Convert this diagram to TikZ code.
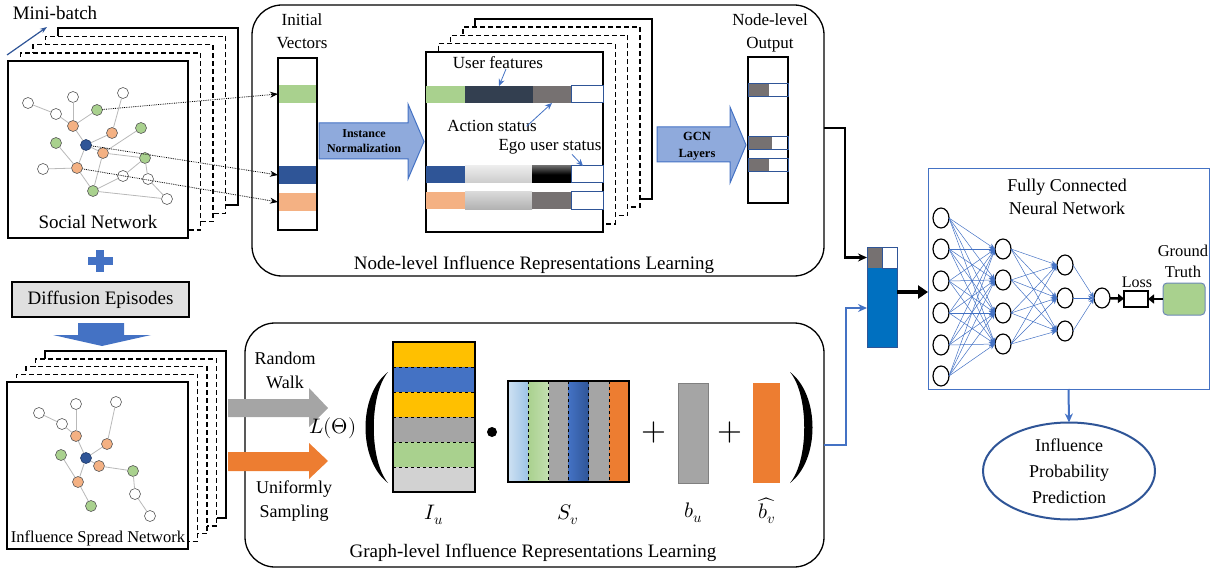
\documentclass[tikz,border=0pt]{standalone}
\usepackage{fontspec}
\setmainfont{Liberation Serif}
\usepackage{unicode-math}
\setmathfont{Latin Modern Math}
\usepackage{tikz}
\usetikzlibrary{positioning}
\usetikzlibrary{shapes,arrows,arrows.meta,calc}
\usepackage{color}

\definecolor{cgreen}{HTML}{A9D18E}
\definecolor{corange}{HTML}{F4B183}
\definecolor{cnavy}{HTML}{2F5597}
\definecolor{cblue}{HTML}{4472C4}
\definecolor{clblue}{HTML}{8FAADC}
\definecolor{cdark}{HTML}{333F50}
\definecolor{cgray}{HTML}{767171}
\definecolor{cdorange}{HTML}{ED7D31}
\definecolor{cyellow}{HTML}{FFC000}
\definecolor{cmid}{HTML}{A5A5A5}
\definecolor{cvec}{HTML}{0070C0}
\definecolor{cskyblue}{HTML}{9DC3E6}

\tikzset{
    %Define standard arrow tip
    >=stealth',
    % Define arrow styles
    dotarr/.style={-{Stealth[length=8pt,width=6pt]}, densely dotted, line width=0.8pt},
    bluearr/.style={-{Stealth[length=7pt,width=6pt]}, cblue, line width=0.8pt},
    blkcon/.style={-{Stealth[length=9pt,width=8pt]}, line width=2.2pt},
    bluecon/.style={-{Stealth[length=9pt,width=8pt]}, cblue, line width=2pt},
    fatarr/.style={-{Triangle[length=10pt,width=13pt]}, line width=3.5pt},
    smallfat/.style={-{Triangle[length=6pt,width=9pt]}, line width=2.5pt},
}
\newcommand{\fbig}{\fontsize{19}{23}\selectfont}
\newcommand{\fmid}{\fontsize{17}{23}\selectfont}
\newcommand{\fmath}{\fontsize{21}{25}\selectfont}

\begin{document}
\begin{tikzpicture}[x=1pt, y=-1pt, outer sep=0pt, inner sep=0pt]
\tikzstyle{sheet}=[draw, rectangle, fill=white, line width=1.5pt, anchor=north west]
\tikzstyle{sheetd}=[sheet, dash pattern=on 5pt off 3pt]
\tikzstyle{vw}=[draw=gray!70!black, circle, fill=white, minimum size=11pt, line width=0.6pt]
\tikzstyle{vg}=[vw, fill=cgreen]
\tikzstyle{vo}=[vw, fill=corange]
\tikzstyle{vb}=[vw, fill=cnavy, draw=cnavy!70!black]
\tikzstyle{ed}=[draw=gray!55, line width=0.8pt]
\tikzstyle{cell}=[rectangle, anchor=north west]
\tikzstyle{wcell}=[cell, draw=cnavy, fill=white, line width=1pt]
\tikzstyle{lbl}=[font=\fmid, align=center]
\tikzstyle{neuron}=[draw, ellipse, fill=white, line width=1.2pt, minimum width=16pt, minimum height=20pt]
\tikzstyle{nnline}=[-{Stealth[length=6pt,width=5pt]}, cblue, line width=0.5pt]
\tikzstyle{bigarr}=[fill=clblue, draw=cblue, line width=1pt]

\useasboundingbox (0,0) rectangle (1212,572);

% social network stack
\node[sheet, minimum width=180pt, minimum height=177pt] (sn4) at (58,28.2) {};
\node[sheetd, minimum width=180pt, minimum height=177pt] (sn3) at (45.5,36.4) {};
\node[sheetd, minimum width=180pt, minimum height=177pt] (sn2) at (33,44.6) {};
\node[sheetd, minimum width=180pt, minimum height=177pt] (sn1) at (20.5,52.8) {};
\node[sheet, minimum width=180pt, minimum height=177pt] (sn0) at (8,61) {};
\node[font=\fbig] (snlbl) at (98,222) {Social Network};

\coordinate (mb0) at (7,55);
\coordinate (mb1) at (47,27);
\draw[-{Stealth[length=7pt,width=5pt]}, cnavy, line width=1.2pt] (mb0) -- (mb1);
\node[font=\fbig] (mblbl) at (55,13) {Mini-batch};

\node[vw] (s1) at (28,103) {};
\node[vw] (s2) at (73,97) {};
\node[vw] (s3) at (123,93) {};
\node[vw] (s4) at (56,114) {};
\node[vg] (s5) at (97,110) {};
\node[vo] (s6) at (73,126) {};
\node[vo] (s7) at (112,133) {};
\node[vg] (s8) at (141,128) {};
\node[vg] (s9) at (56,143) {};
\node[vb] (s10) at (86,145) {};
\node[vo] (s11) at (103,153) {};
\node[vg] (s12) at (145,158) {};
\node[vw] (s13) at (43,169) {};
\node[vo] (s14) at (77,168) {};
\node[vw] (s15) at (123,176) {};
\node[vw] (s16) at (148,179) {};
\node[vg] (s17) at (93,191) {};
\node[vw] (s18) at (167,199) {};

\foreach \a/\b in {s1/s4, s4/s6, s2/s6, s6/s5, s3/s7, s6/s10, s10/s7, s10/s11,
                   s11/s8, s11/s12, s12/s16, s16/s18, s10/s14, s9/s14, s13/s14,
                   s14/s17, s11/s17, s17/s15, s15/s12, s17/s18}
  \draw[ed] (\a) -- (\b);

% node-level box
\node[draw, rounded corners=30pt, line width=1.3pt, anchor=north west, minimum width=572pt, minimum height=271pt] (nodebox) at (252,5) {};
\node[font=\fbig] (nodettl) at (534,265) {Node-level Influence Representations Learning};

\node[lbl] (ivlbl) at (302,31) {Initial\\Vectors};
\node[cell, fill=cgreen, minimum width=39pt, minimum height=18pt] (ivg) at (278,85) {};
\node[cell, fill=cnavy, minimum width=39pt, minimum height=18pt] (ivb) at (278,166) {};
\node[cell, fill=corange, minimum width=39pt, minimum height=18pt] (ivo) at (278,193) {};
\node[cell, draw, line width=1.5pt, minimum width=39pt, minimum height=172pt] (iv) at (278,58) {};

\draw[dotarr] (s5) -- (ivg.west);
\draw[dotarr] (s10) -- (ivb.west);
\draw[dotarr] (s14) -- (ivo.west);

\draw[bigarr] (319,123) -- (408,123) -- (408,104) -- (424,141.5) -- (408,179) -- (408,159) -- (319,159) -- cycle;
\node[font=\bfseries\fontsize{12}{15}\selectfont, align=center] (inlbl) at (364,141.5) {Instance\\Normalization};

% feature stack
\node[sheet, minimum width=177pt, minimum height=180pt] (ft4) at (475,19) {};
\node[sheetd, minimum width=177pt, minimum height=180pt] (ft3) at (462.75,27.25) {};
\node[sheetd, minimum width=177pt, minimum height=180pt] (ft2) at (450.5,35.5) {};
\node[sheetd, minimum width=177pt, minimum height=180pt] (ft1) at (438.25,43.75) {};
\node[sheet, minimum width=177pt, minimum height=180pt] (ft0) at (426,52) {};

\node[cell, fill=cgreen, minimum width=39pt, minimum height=17pt] (f1a) at (426,86) {};
\node[cell, fill=cdark, minimum width=68pt, minimum height=17pt] (f1b) at (465,86) {};
\node[cell, fill=cgray, minimum width=38pt, minimum height=17pt] (f1c) at (533,86) {};
\node[wcell, minimum width=32pt, minimum height=17pt] (f1d) at (571,86) {};

\node[cell, fill=cnavy, minimum width=39pt, minimum height=17pt] (f2a) at (426,166) {};
\node[cell, top color=gray!15, bottom color=gray!40, minimum width=67pt, minimum height=17pt] (f2b) at (465,166) {};
\node[cell, top color=black!60, bottom color=black, middle color=black, minimum width=39pt, minimum height=17pt] (f2c) at (532,166) {};
\node[wcell, minimum width=32pt, minimum height=17pt] (f2d) at (571,166) {};

\node[cell, fill=corange, minimum width=39pt, minimum height=17pt] (f3a) at (426,192) {};
\node[cell, top color=gray!30, bottom color=gray!60, minimum width=67pt, minimum height=17pt] (f3b) at (465,192) {};
\node[cell, fill=cgray, minimum width=39pt, minimum height=17pt] (f3c) at (532,192) {};
\node[wcell, minimum width=32pt, minimum height=17pt] (f3d) at (571,192) {};

\node[lbl] (ufeat) at (498,63) {User features};
\node[lbl] (astat) at (492,126) {Action status};
\node[lbl] (estat) at (550,147) {Ego user status};
\draw[bluearr] ([xshift=8pt]ufeat.south) -- (f1b.north);
\draw[bluearr] ([xshift=-10pt,yshift=-6pt]astat.north east) -- (f1c.south);
\draw[bluearr] ([xshift=22pt]estat.south) -- ([xshift=-4pt]f2d.north);

\draw[bigarr] (657,127) -- (730,127) -- (730,107) -- (746,145) -- (730,183) -- (730,162) -- (657,162) -- cycle;
\node[font=\bfseries\fontsize{12.5}{17}\selectfont, align=center] (gcnlbl) at (697,146) {GCN\\Layers};

% node-level output
\node[lbl] (outlbl) at (770,33) {Node-level\\Output};
\node[cell, draw, line width=1.5pt, minimum width=40pt, minimum height=146pt] (nlo) at (748,57) {};
\node[cell, fill=cgray, minimum width=21pt, minimum height=13pt] (nlo1g) at (748,84) {};
\node[cell, draw=cnavy, line width=1pt, minimum width=40pt, minimum height=13pt] (nlo1) at (748,84) {};
\node[cell, fill=cgray, minimum width=24pt, minimum height=13pt] (nlo2g) at (748,137) {};
\node[cell, draw=cnavy, line width=1pt, minimum width=40pt, minimum height=13pt] (nlo2) at (748,137) {};
\node[cell, fill=cgray, minimum width=21pt, minimum height=13pt] (nlo3g) at (748,159) {};
\node[cell, draw=cnavy, line width=1pt, minimum width=40pt, minimum height=13pt] (nlo3) at (748,159) {};

% combined vector
\node[cell, fill=cvec, draw=cnavy, line width=1pt, minimum width=30pt, minimum height=100pt] (cvec) at (867,247) {};
\node[cell, fill=cgray, minimum width=15pt, minimum height=21pt] (cvg) at (867,247) {};
\node[cell, fill=white, draw=cnavy, line width=1pt, minimum width=15pt, minimum height=21pt] (cvw) at (882,247) {};
\node[cell, draw=cnavy, line width=1pt, minimum width=30pt, minimum height=100pt] (cvo) at (867,247) {};

\draw[blkcon] ([yshift=12.5pt]nodebox.east) -- ++(21,0) |- (cvg.west);

% fully connected network
\node[cell, draw=cblue, line width=1pt, minimum width=281pt, minimum height=220pt] (fcbox) at (928,169) {};
\node[font=\fontsize{18}{23}\selectfont, align=center] (fcttl) at (1067,196.5) {Fully Connected\\Neural Network};

\coordinate (cvout) at ([yshift=5pt]cvec.east);
\draw[fatarr] (cvout) -- (cvout -| fcbox.west);

\foreach \y [count=\i] in {218,249,281,313,345,376}
  \node[neuron] (a\i) at (941,\y) {};
\foreach \y [count=\i] in {249,280,313,344}
  \node[neuron] (b\i) at (1003,\y) {};
\foreach \y [count=\i] in {265,298,331}
  \node[neuron] (c\i) at (1065,\y) {};
\node[neuron] (out) at (1102,298) {};

\foreach \i in {1,...,6}
  \foreach \j in {1,...,4}
    \draw[nnline] (a\i.east) -- (b\j.west);
\foreach \i in {1,...,4}
  \foreach \j in {1,...,3}
    \draw[nnline] (b\i.east) -- (c\j.west);
\foreach \i in {1,...,3}
  \draw[nnline] (c\i.east) -- (out.west);

\node[cell, draw, line width=2pt, minimum width=24pt, minimum height=16pt] (loss) at (1124,291) {};
\node[font=\fontsize{16}{18}\selectfont] (losslbl) at (1137,282) {Loss};
\node[cell, rounded corners=4pt, draw=cnavy!70, fill=cgreen, line width=1pt, minimum width=42pt, minimum height=32pt] (gt) at (1163,283) {};
\node[font=\fontsize{16.5}{21}\selectfont, align=center] (gtlbl) at (1183,261) {Ground\\Truth};
\draw[smallfat] (out) -- (loss);
\draw[smallfat] (gt) -- (loss);

\node[draw=cnavy, ellipse, line width=2pt, minimum width=172pt, minimum height=97pt, align=center, font=\fontsize{18}{26}\selectfont] (pred) at (1069,471) {Influence\\Probability\\Prediction};
\draw[bluecon] (fcbox.south) -- (pred.north);

% diffusion episodes
\fill[cblue] (88,257) rectangle (113,265);
\fill[cblue] (96,250) rectangle (104,272);
\node[draw, fill=gray!25, line width=1.3pt, minimum width=177pt, minimum height=35pt, font=\fbig] (diff) at (100.5,299.5) {Diffusion Episodes};
\fill[cblue] (78,323) -- (124,323) -- (124,335) -- (151,335) -- (102,346) -- (53,335) -- (78,335) -- cycle;

% influence spread stack
\node[sheet, minimum width=181pt, minimum height=167pt] (is4) at (45,351) {};
\node[sheetd, minimum width=181pt, minimum height=167pt] (is3) at (35.5,358.75) {};
\node[sheetd, minimum width=181pt, minimum height=167pt] (is2) at (26,366.5) {};
\node[sheetd, minimum width=181pt, minimum height=167pt] (is1) at (16.5,374.25) {};
\node[sheet, minimum width=181pt, minimum height=167pt] (is0) at (7,382) {};
\node[font=\fontsize{16.5}{20}\selectfont] (islbl) at (98,538) {Influence Spread Network};

\node[vw] (p1) at (39,413) {};
\node[vw] (p2) at (76,404) {};
\node[vw] (p3) at (116,402) {};
\node[vw] (p4) at (62,424) {};
\node[vo] (p5) at (76,436) {};
\node[vo] (p6) at (107,444) {};
\node[vg] (p7) at (61,455) {};
\node[vb] (p8) at (86,458) {};
\node[vo] (p9) at (99,466) {};
\node[vg] (p10) at (133,471) {};
\node[vo] (p11) at (78,482) {};
\node[vw] (p12) at (135,494) {};
\node[vg] (p13) at (91,506) {};
\node[vw] (p14) at (150,516) {};

\foreach \a/\b in {p1/p4, p4/p5, p2/p5, p5/p8, p3/p6, p6/p8, p8/p9, p9/p10,
                   p10/p12, p12/p14, p8/p11, p7/p11, p11/p13}
  \draw[ed] (\a) -- (\b);

% graph-level box
\node[draw, rounded corners=30pt, line width=1.3pt, anchor=north west, minimum width=579pt, minimum height=244pt] (graphbox) at (245,323) {};
\node[font=\fbig] (graphttl) at (533,553) {Graph-level Influence Representations Learning};

\fill[cmid] (228,399) -- (309,399) -- (309,388) -- (328,408) -- (309,427) -- (309,417) -- (228,417) -- cycle;
\fill[cdorange] (228,452) -- (309,452) -- (309,443) -- (328,461) -- (309,479) -- (309,471) -- (228,471) -- cycle;
\node[font=\fontsize{18}{24}\selectfont, align=center] (rwlbl) at (285,370) {Random\\Walk};
\node[font=\fontsize{18}{24}\selectfont, align=center] (uslbl) at (294,501) {Uniformly\\Sampling};

\node[font=\fmath] (ltheta) at (333,428) {$L(\Theta)$};
\fill (388,372) .. controls (358,395) and (358,460) .. (388,483) .. controls (369,460) and (369,395) .. (388,372) -- cycle;
\fill (790,372) .. controls (820,395) and (820,460) .. (790,483) .. controls (809,460) and (809,395) .. (790,372) -- cycle;

\foreach \c [count=\i from 0] in {cyellow,cblue,cyellow,cmid,cgreen,gray!35}
  \fill[\c] (393,{342+25*\i}) rectangle ++(82,25);
\foreach \i in {1,...,5}
  \draw[dashed, line width=0.9pt] (393,{342+25*\i}) -- ++(82,0);
\node[cell, draw, line width=1.8pt, minimum width=82pt, minimum height=150pt] (iu) at (393,342) {};
\node[font=\fmath] (iulbl) at (434,515) {$I_u$};

\node[circle, fill, minimum size=10pt] (dot) at (492,432) {};

\shade[left color=cskyblue!50, right color=cskyblue] (508,381) rectangle (528,482);
\shade[left color=cgreen, right color=cgreen!70] (528,381) rectangle (548.5,482);
\fill[cmid] (548.5,381) rectangle (568.5,482);
\shade[left color=cblue, right color=cnavy] (568.5,381) rectangle (588.5,482);
\fill[cmid] (588.5,381) rectangle (609,482);
\fill[cdorange] (609,381) rectangle (629,482);
\foreach \x in {528,548.5,568.5,588.5,609}
  \draw[dashed, line width=0.9pt] (\x,381) -- ++(0,101);
\node[cell, draw, line width=1.8pt, minimum width=121pt, minimum height=101pt] (sv) at (508,381) {};
\node[font=\fmath] (svlbl) at (568,515) {$S_v$};

\node[font=\fontsize{32}{32}\selectfont] (plus1) at (654,432) {$+$};
\node[cell, fill=cmid, draw=gray, line width=1pt, minimum width=30pt, minimum height=100pt] (bu) at (678,383) {};
\node[font=\fmath] (bulbl) at (693,513) {$b_u$};
\node[font=\fontsize{32}{32}\selectfont] (plus2) at (730,432) {$+$};
\node[cell, fill=cdorange, minimum width=27pt, minimum height=100pt] (bv) at (753,383) {};
\node[font=\fmath] (bvlbl) at (767,511) {$\widehat{b_v}$};

\draw[bluecon] (graphbox.east) -- ++(22,0) |- ([yshift=-11pt]cvec.west);

\end{tikzpicture}
\end{document}
